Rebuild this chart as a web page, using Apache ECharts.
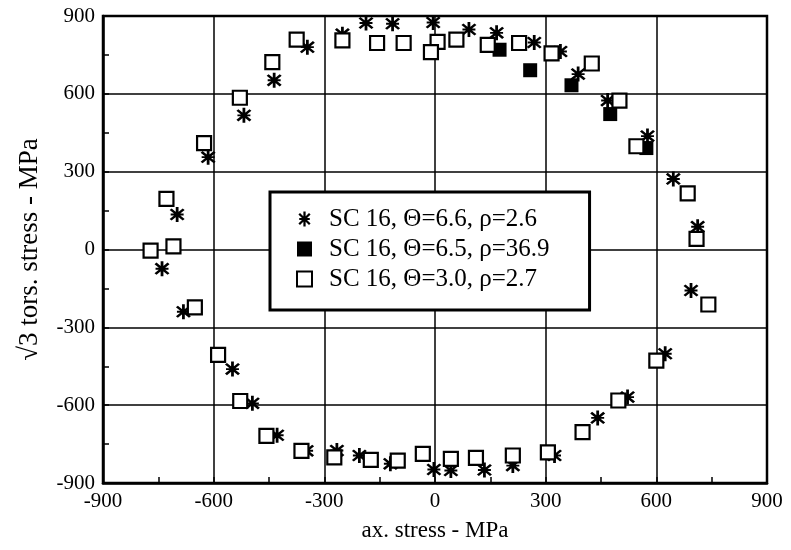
<!DOCTYPE html>
<html>
<head>
<meta charset="utf-8">
<script src="https://cdn.jsdelivr.net/npm/echarts@6/dist/echarts.min.js"></script>
<style>
html,body{margin:0;padding:0;background:#fff;}
#main{width:791px;height:550px;}
</style>
</head>
<body>
<div id="main"></div>
<script>
// axis ticks
const xTicks=[-900,-600,-300,0,300,600,900];
const yTicks=[-900,-600,-300,0,300,600,900];

// SC 16, Θ=6.6, ρ=2.6  (asterisks)
const seriesStar=[
  [-346,780],[-436,652],[-518,517],[-615,356],[-699,135],
  [-251,830],[-187,873],[-115,870],[-5,875],[92,848],[167,835],[269,798],
  [340,763],[388,676],[468,574],[576,437],[646,272],[712,88],
  [694,-158],[624,-402],[522,-569],[441,-649],[324,-794],[211,-833],
  [134,-850],[43,-852],[-3,-848],[-121,-826],[-205,-794],[-266,-775],
  [-348,-776],[-428,-716],[-495,-593],[-549,-461],[-682,-240],[-740,-74]
];
// SC 16, Θ=6.5, ρ=36.9  (filled squares)
const seriesFilled=[
  [175,770],[258,691],[370,633],[475,522],[573,391]
];
// SC 16, Θ=3.0, ρ=2.7  (open squares)
const seriesOpen=[
  [-375,809],[-441,722],[-529,585],[-626,410],[-728,195],[-771,-4],[-709,12],
  [-251,806],[-157,796],[-85,796],[7,800],[-11,761],[58,809],[143,789],
  [228,796],[316,756],[425,717],[500,574],[546,398],[685,216],[709,41],[741,-212],
  [600,-428],[497,-582],[400,-704],[306,-782],[211,-794],[111,-803],[43,-807],
  [-33,-788],[-101,-814],[-174,-811],[-273,-801],[-362,-776],[-457,-718],
  [-528,-584],[-588,-406],[-651,-223]
];
const names=['SC 16, \u0398=6.6, \u03c1=2.6','SC 16, \u0398=6.5, \u03c1=36.9','SC 16, \u0398=3.0, \u03c1=2.7'];

const serif="'Liberation Serif','Times New Roman',serif";
// asterisk glyph: vertical bar, two diagonals, short horizontal
const star='path://M8.5,0L11.5,0L11.5,20L8.5,20Z M4,1.9L18.1,16L16,18.1L1.9,4Z M16,1.9L18.1,4L4,18.1L1.9,16Z M3,8.7L17,8.7L17,11.3L3,11.3Z';

let chart=echarts.init(document.getElementById('main'),null,{renderer:'canvas'});
let axisCommon={
  type:'value',
  min:-900,max:900,interval:300,
  axisLine:{show:true,onZero:false,lineStyle:{color:'#000',width:2.5}},
  axisTick:{show:true,inside:true,length:6,lineStyle:{color:'#000',width:1.5}},
  minorTick:{show:true,splitNumber:2,length:6,lineStyle:{color:'#000',width:1.5}},
  splitLine:{show:true,lineStyle:{color:'#000',width:1.5}},
  axisLabel:{color:'#000',fontFamily:serif,fontSize:21,margin:8,
    formatter:function(v){return String(v);}},
  nameTextStyle:{color:'#000',fontFamily:serif,fontSize:23}
};
let option={
  backgroundColor:'#fff',
  animation:false,
  grid:{
    left:103,right:24,top:16,bottom:67,
    show:true,borderColor:'#000',borderWidth:2.5
  },
  xAxis:Object.assign({},axisCommon,{
    name:'ax. stress - MPa',nameLocation:'middle',nameGap:36,
    axisLabel:Object.assign({},axisCommon.axisLabel,{customValues:xTicks})
  }),
  yAxis:Object.assign({},axisCommon,{
    name:'\u221a3 tors. stress - MPa',nameLocation:'middle',nameGap:60,
    nameTextStyle:{color:'#000',fontFamily:serif,fontSize:27},
    axisLabel:Object.assign({},axisCommon.axisLabel,{customValues:yTicks})
  }),
  legend:{
    left:270,top:192,orient:'vertical',
    backgroundColor:'#fff',borderColor:'#000',borderWidth:3,
    padding:[14,40,18,26],
    itemGap:4,itemWidth:15,itemHeight:15,
    textStyle:{color:'#000',fontFamily:serif,fontSize:25,lineHeight:26,padding:[0,0,0,12]},
    data:names
  },
  series:[
    {
      name:names[0],type:'scatter',data:seriesStar,
      symbol:star,symbolSize:15,z:2,
      itemStyle:{color:'#000',opacity:1}
    },
    {
      name:names[1],type:'scatter',data:seriesFilled,
      symbol:'rect',symbolSize:14,z:1,
      itemStyle:{color:'#000',opacity:1}
    },
    {
      name:names[2],type:'scatter',data:seriesOpen,
      symbol:'rect',symbolSize:14,z:3,
      itemStyle:{color:'#fff',borderColor:'#000',borderWidth:2.2,opacity:1}
    }
  ]
};
chart.setOption(option);
</script>
</body>
</html>
